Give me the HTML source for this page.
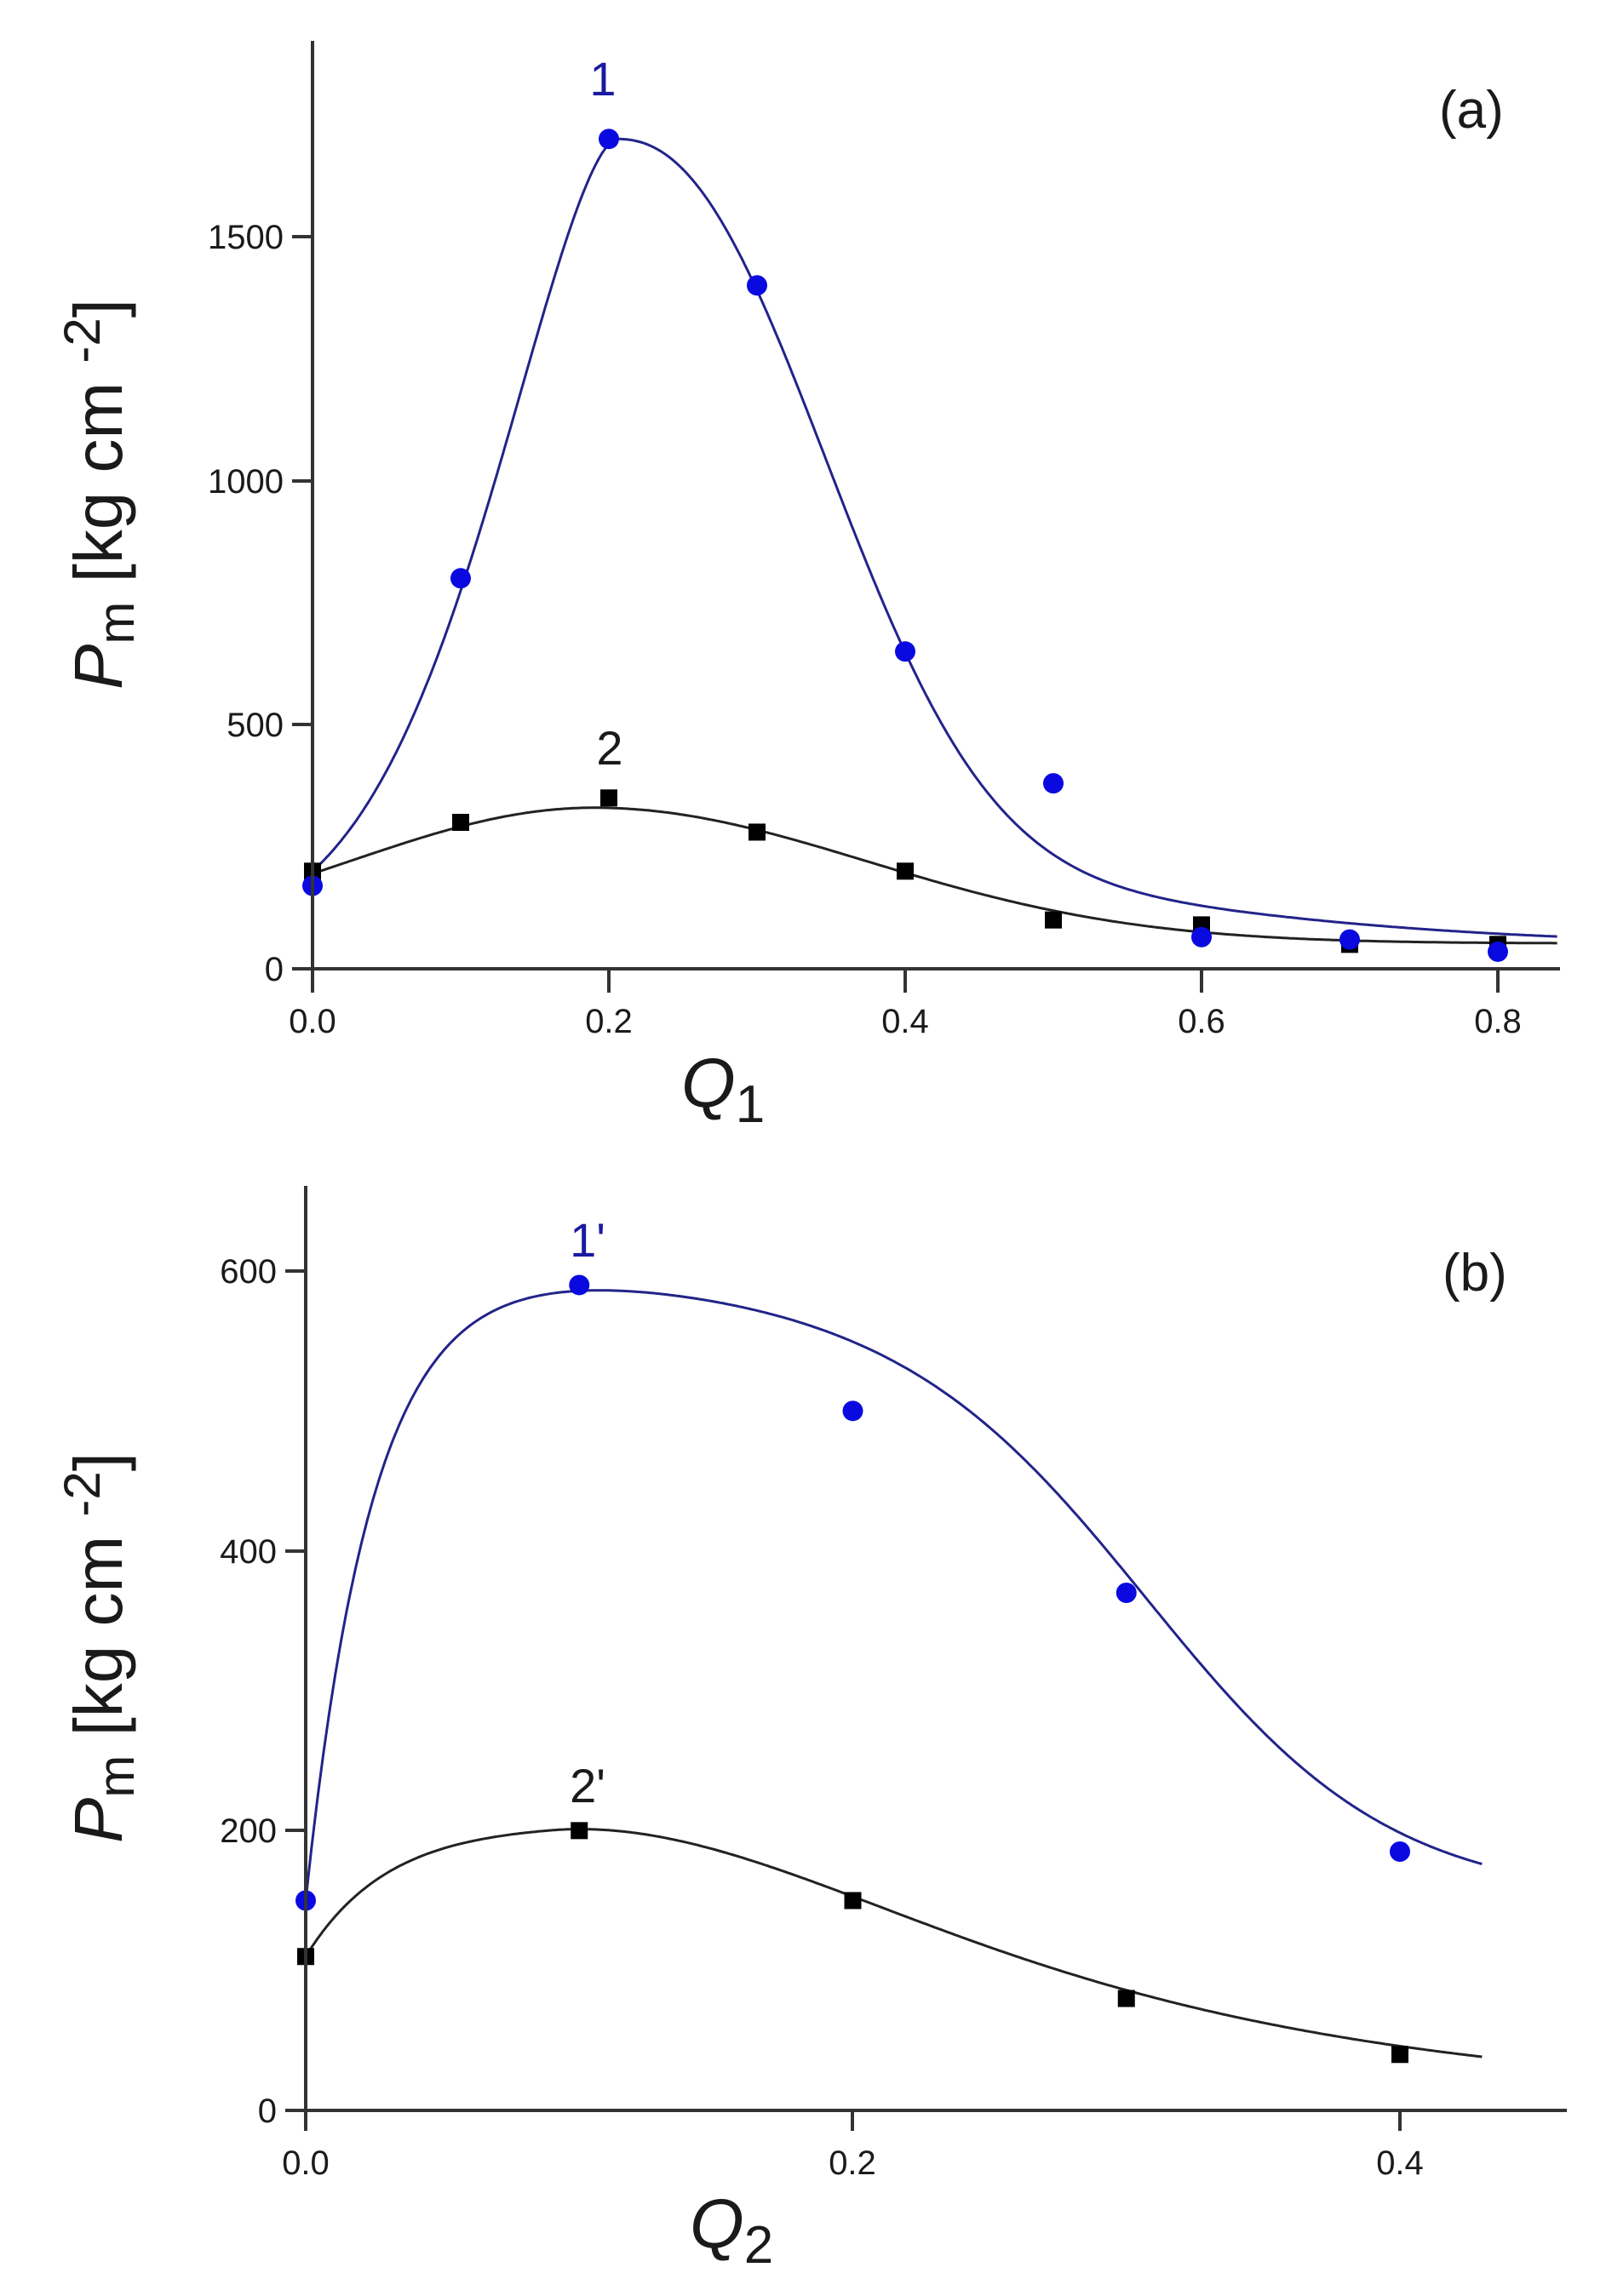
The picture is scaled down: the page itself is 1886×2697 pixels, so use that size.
<!DOCTYPE html>
<html><head><meta charset="utf-8"><style>
html,body{margin:0;padding:0;background:#fff;}
svg{display:block;}
text{font-family:"Liberation Sans",Arial,sans-serif;fill:#1a1a1a;}
</style></head><body>
<svg id="s" width="1886" height="2697" viewBox="0 0 1886 2697" xmlns="http://www.w3.org/2000/svg">
<g id="a"></g>
<g stroke="#333" stroke-width="4" fill="none">
<line x1="367" y1="48" x2="367" y2="1166"/>
<line x1="343" y1="1138" x2="1832" y2="1138"/>
<line x1="343" y1="851" x2="367" y2="851"/>
<line x1="343" y1="565" x2="367" y2="565"/>
<line x1="343" y1="278" x2="367" y2="278"/>
<line x1="715" y1="1138" x2="715" y2="1166"/>
<line x1="1063" y1="1138" x2="1063" y2="1166"/>
<line x1="1411" y1="1138" x2="1411" y2="1166"/>
<line x1="1759" y1="1138" x2="1759" y2="1166"/>
</g>
<g font-size="40" text-anchor="end">
<text x="333" y="1152">0</text>
<text x="333" y="865">500</text>
<text x="333" y="579">1000</text>
<text x="333" y="292">1500</text>
</g>
<g font-size="40" text-anchor="middle">
<text x="367" y="1213">0.0</text>
<text x="715" y="1213">0.2</text>
<text x="1063" y="1213">0.4</text>
<text x="1411" y="1213">0.6</text>
<text x="1759" y="1213">0.8</text>
</g>
<text x="800" y="1300" font-size="82" font-style="italic">Q<tspan font-style="normal" font-size="62" dy="18">1</tspan></text>
<text transform="translate(143,810) rotate(-90)" font-size="80"><tspan font-style="italic">P</tspan><tspan font-size="60" dy="14">m</tspan><tspan dy="-14"> [kg cm </tspan><tspan font-size="60" dy="-26">-2</tspan><tspan dy="26">]</tspan></text>
<text x="1690" y="150" font-size="62">(a)</text>
<text x="708" y="112" font-size="56" style="fill:#1a1aa0" text-anchor="middle">1</text>
<text x="716" y="898" font-size="56" text-anchor="middle">2</text>

<g stroke="#333" stroke-width="4" fill="none">
<line x1="359" y1="1393" x2="359" y2="2503"/>
<line x1="335" y1="2479" x2="1840" y2="2479"/>
<line x1="335" y1="2150" x2="359" y2="2150"/>
<line x1="335" y1="1822" x2="359" y2="1822"/>
<line x1="335" y1="1493" x2="359" y2="1493"/>
<line x1="1001" y1="2479" x2="1001" y2="2503"/>
<line x1="1644" y1="2479" x2="1644" y2="2503"/>
</g>
<g font-size="40" text-anchor="end">
<text x="325" y="2493">0</text>
<text x="325" y="2164">200</text>
<text x="325" y="1836">400</text>
<text x="325" y="1507">600</text>
</g>
<g font-size="40" text-anchor="middle">
<text x="359" y="2554">0.0</text>
<text x="1001" y="2554">0.2</text>
<text x="1644" y="2554">0.4</text>
</g>
<text x="810" y="2640" font-size="82" font-style="italic">Q<tspan font-style="normal" font-size="62" dy="18">2</tspan></text>
<text transform="translate(143,2165) rotate(-90)" font-size="80"><tspan font-style="italic">P</tspan><tspan font-size="60" dy="14">m</tspan><tspan dy="-14"> [kg cm </tspan><tspan font-size="60" dy="-26">-2</tspan><tspan dy="26">]</tspan></text>
<text x="1694" y="1516" font-size="62">(b)</text>
<text x="690" y="1476" font-size="56" style="fill:#1a1aa0" text-anchor="middle">1'</text>
<text x="690" y="2117" font-size="56" text-anchor="middle">2'</text>
</svg>
<script>
(function(){
var NS="http://www.w3.org/2000/svg",g=document.getElementById("a");
function el(n,a){var e=document.createElementNS(NS,n);for(var k in a)e.setAttribute(k,a[k]);g.appendChild(e);return e;}
function curve(X0,SX,Y0,SY,f,x1,col){var d="";for(var i=0;i<=400;i++){var x=x1*i/400,y=f(x);
d+=(i?"L":"M")+(X0+x*SX).toFixed(1)+","+(Y0-y*SY).toFixed(1);}
el("path",{d:d,fill:"none",stroke:col,"stroke-width":3,"stroke-linejoin":"round"});}
function marks(X0,SX,Y0,SY,t,p){p.forEach(function(q){var x=X0+q[0]*SX,y=Y0-q[1]*SY;
if(t=="c")el("circle",{cx:x,cy:y,r:12,fill:"#0a0ae0"});else el("rect",{x:x-10,y:y-10,width:20,height:20,fill:"#000"});});}
var ax=367,asx=1740,ay=1138,asy=0.5734;
function b1(x){var d=x-0.205;if(d<0){return 50+1650*Math.exp(-Math.pow(-d/0.1186,1.6));}
return 50+1450*Math.exp(-Math.pow(d/0.1806,2.28))+200*Math.exp(-Math.pow(d/0.4,2));}
function k1(x){var d=x-0.19,w=d<0?0.233:0.26;return 52+278*Math.exp(-(d/w)*(d/w));}
curve(ax,asx,ay,asy,b1,0.84,"#23238a");
curve(ax,asx,ay,asy,k1,0.84,"#222");
marks(ax,asx,ay,asy,"s",[[0,200],[0.1,300],[0.2,350],[0.3,280],[0.4,200],[0.5,100],[0.6,90],[0.7,50],[0.8,50]]);
marks(ax,asx,ay,asy,"c",[[0,170],[0.1,800],[0.2,1700],[0.3,1400],[0.4,650],[0.5,380],[0.6,65],[0.7,60],[0.8,35]]);
var bx=359,bsx=3212.5,by=2479,bsy=1.6433;
function b2(x){var R=1-Math.exp(-x/0.025),S=1/(1+Math.exp((x-0.31)/0.045));return 150+462*R*S*(1-0.3*x);}
function k2(x){var R=1-Math.exp(-x/0.03),base=110+95*R;if(x<0.09)return base;var t=(x-0.09)/0.237;return base/Math.pow(1+t*t,1.5);}
curve(bx,bsx,by,bsy,b2,0.43,"#23238a");
curve(bx,bsx,by,bsy,k2,0.43,"#222");
marks(bx,bsx,by,bsy,"s",[[0,110],[0.1,200],[0.2,150],[0.3,80],[0.4,40]]);
marks(bx,bsx,by,bsy,"c",[[0,150],[0.1,590],[0.2,500],[0.3,370],[0.4,185]]);
})();
</script>
</body></html>
